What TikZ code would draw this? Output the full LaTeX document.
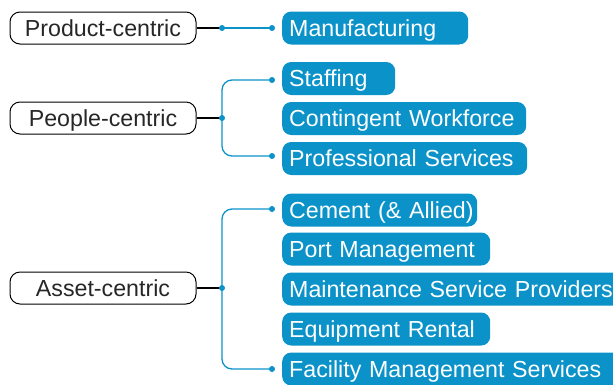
\documentclass[tikz,border=0pt]{standalone}
\usepackage{fontspec}
\setmainfont{Liberation Sans}
\definecolor{leafblue}{RGB}{10,146,201}
\hbadness=10000 \hfuzz=100pt
\begin{document}
\begin{tikzpicture}[x=1pt,y=-1pt,
  cat/.style={draw=black, line width=1pt, rounded corners=10pt, minimum width=186pt, minimum height=32pt, inner sep=0pt, text height=16pt, text depth=0pt, font=\fontsize{23.2}{26}\selectfont, text=black!85},
  leaf/.style={fill=leafblue, text=white, rounded corners=9pt, anchor=west, minimum height=33pt, inner xsep=7pt, inner ysep=0pt, text height=16pt, text depth=0pt, align=left, font=\fontsize{23.2}{26}\selectfont},
  blk/.style={draw=black, line width=1.2pt},
  blu/.style={draw=leafblue, line width=1.3pt, rounded corners=10pt},
  dot/.style={fill=leafblue, draw=none}
]
\useasboundingbox (0,0) rectangle (613,384);
\clip (0,0) rectangle (613,384);

% categories
\node[cat] (pc) at (103,28) {Product-centric};
\node[cat] (pe) at (103,118) {People-centric};
\node[cat] (as) at (103,288) {Asset-centric};

% leaves
\node[leaf, text width=172pt] (l1) at (282,28) {\mbox{Manufacturing}};
\node[leaf, text width=99pt] (l2) at (282,78.5) {\mbox{Staffing}};
\node[leaf, text width=230pt] (l3) at (282,118.5) {\mbox{Contingent Workforce}};
\node[leaf, text width=231pt] (l4) at (282,158.5) {\mbox{Professional Services}};
\node[leaf, text width=181pt] (l5) at (282,210) {\mbox{Cement (\& Allied)}};
\node[leaf, text width=194pt] (l6) at (282,249) {\mbox{Port Management}};
\node[leaf, text width=330pt] (l7) at (282,289) {\mbox{Maintenance Service Providers}};
\node[leaf, text width=194pt] (l8) at (282,329) {\mbox{Equipment Rental}};
\node[leaf, text width=330pt] (l9) at (282,369) {\mbox{Facility Management Services}};

% junctions and dots
\coordinate (j1) at (222,28);
\coordinate (j2) at (222,118);
\coordinate (j3) at (222,288);
\coordinate (d1) at (272,28);
\coordinate (d2) at (272,80);
\coordinate (d4) at (272,156);
\coordinate (d5) at (272,209);
\coordinate (d9) at (272,369);

% product
\draw[blk] (pc.east) -- (j1);
\draw[blu] (j1) -- (d1);
% people
\draw[blk] (pe.east) -- (j2);
\draw[blu] (d2) -| (j2) |- (d4);
% asset
\draw[blk] (as.east) -- (j3);
\draw[blu] (d5) -| (j3) |- (d9);

\foreach \c in {j1,j2,j3,d1,d2,d4,d5,d9} \fill[dot] (\c) circle (3pt);
\end{tikzpicture}
\end{document}
